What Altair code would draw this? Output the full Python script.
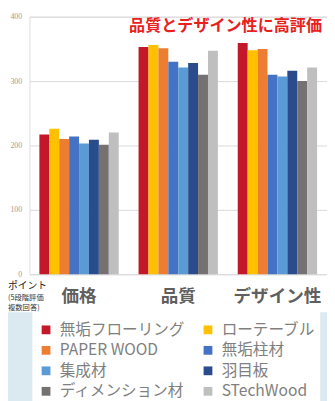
import altair as alt
import pandas as pd

categories = ["価格", "品質", "デザイン性"]
series = ["無垢フローリング", "ローテーブル", "PAPER WOOD", "無垢柱材",
          "集成材", "羽目板", "ディメンション材", "STechWood"]
colors = ["#c3172a", "#ffc000", "#ed7d31", "#4472c4",
          "#5b9bd5", "#2b4c8c", "#767171", "#bfbfbf"]
price = [217, 226, 210, 214, 203, 209, 201, 220]
quality = [353, 356, 351, 330, 321, 328, 310, 347]
design = [359, 348, 350, 310, 307, 316, 300, 321]
y_ticks = [0, 100, 200, 300, 400]
title_text = "品質とデザイン性に高評価"
note_lines = ["ポイント", "(5段階評価", "複数回答)"]

rows = []
for cat, vals in zip(categories, [price, quality, design]):
    for s, v in zip(series, vals):
        rows.append({"cat": cat, "series": s, "value": v})
df = pd.DataFrame(rows)

FONT = "Noto Sans CJK JP"

bg_left = alt.Chart(pd.DataFrame({"a": [0]})).mark_rect(color="#dbeaf0").encode(
    x=alt.value(-22), x2=alt.value(3), y=alt.value(303), y2=alt.value(400))
bg_right = alt.Chart(pd.DataFrame({"a": [0]})).mark_rect(color="#dbeaf0").encode(
    x=alt.value(298), x2=alt.value(320), y=alt.value(303), y2=alt.value(400))

bars = alt.Chart(df).mark_bar().encode(
    x=alt.X("cat:N", sort=categories,
            scale=alt.Scale(paddingInner=0.2, paddingOuter=0.1),
            axis=alt.Axis(title=None, labelAngle=0, domain=False, ticks=False,
                          labelFontSize=18, labelFontWeight="bold",
                          labelColor="#5f5f5f", labelPadding=14, labelFont=FONT)),
    xOffset=alt.XOffset("series:N", sort=series, scale=alt.Scale(paddingInner=0, paddingOuter=0)),
    y=alt.Y("value:Q", scale=alt.Scale(domain=[0, 400], nice=False),
            axis=alt.Axis(title=None, values=y_ticks, grid=True, gridColor="#d9d9d9",
                          domain=False, ticks=False, labelFontSize=8,
                          labelColor="#999999", labelPadding=8,
                          labelFont="Liberation Serif")),
    color=alt.Color("series:N", sort=series,
                    scale=alt.Scale(domain=series, range=colors),
                    legend=alt.Legend(orient="none", legendX=3, legendY=307,
                                      columns=2, direction="horizontal",
                                      title=None, symbolType="square",
                                      symbolSize=81, symbolStrokeWidth=0,
                                      labelFontSize=16, labelColor="#7f7f7f",
                                      labelFont=FONT, labelOffset=6,
                                      columnPadding=15, rowPadding=5, padding=6,
                                      labelLimit=300)),
)

title = alt.Chart(pd.DataFrame({"t": [title_text]})).mark_text(
    font=FONT, fontSize=16.5, fontWeight="bold", color="#e8211d",
    align="center", baseline="middle").encode(
    text="t:N", x=alt.value(201), y=alt.value(10))

note1 = alt.Chart(pd.DataFrame({"t": [note_lines[0]]})).mark_text(
    font=FONT, fontSize=10, color="#222222", align="left", baseline="middle").encode(
    text="t:N", x=alt.value(-22), y=alt.value(276))
note2 = alt.Chart(pd.DataFrame({"t": [note_lines[1]]})).mark_text(
    font=FONT, fontSize=7.5, color="#333333", align="left", baseline="middle").encode(
    text="t:N", x=alt.value(-22), y=alt.value(288.5))
note3 = alt.Chart(pd.DataFrame({"t": [note_lines[2]]})).mark_text(
    font=FONT, fontSize=7.5, color="#333333", align="left", baseline="middle").encode(
    text="t:N", x=alt.value(-22), y=alt.value(299))

chart = alt.layer(bg_left, bg_right, bars, title, note1, note2, note3).properties(
    width=305, height=264,
    autosize=alt.AutoSizeParams(type="none"),
    padding={"left": 22, "top": 4, "right": 0, "bottom": 125},
    background="white",
).configure_view(stroke=None).configure(font=FONT)

chart.save("out.html", embed_options={"renderer": "svg", "actions": False})
